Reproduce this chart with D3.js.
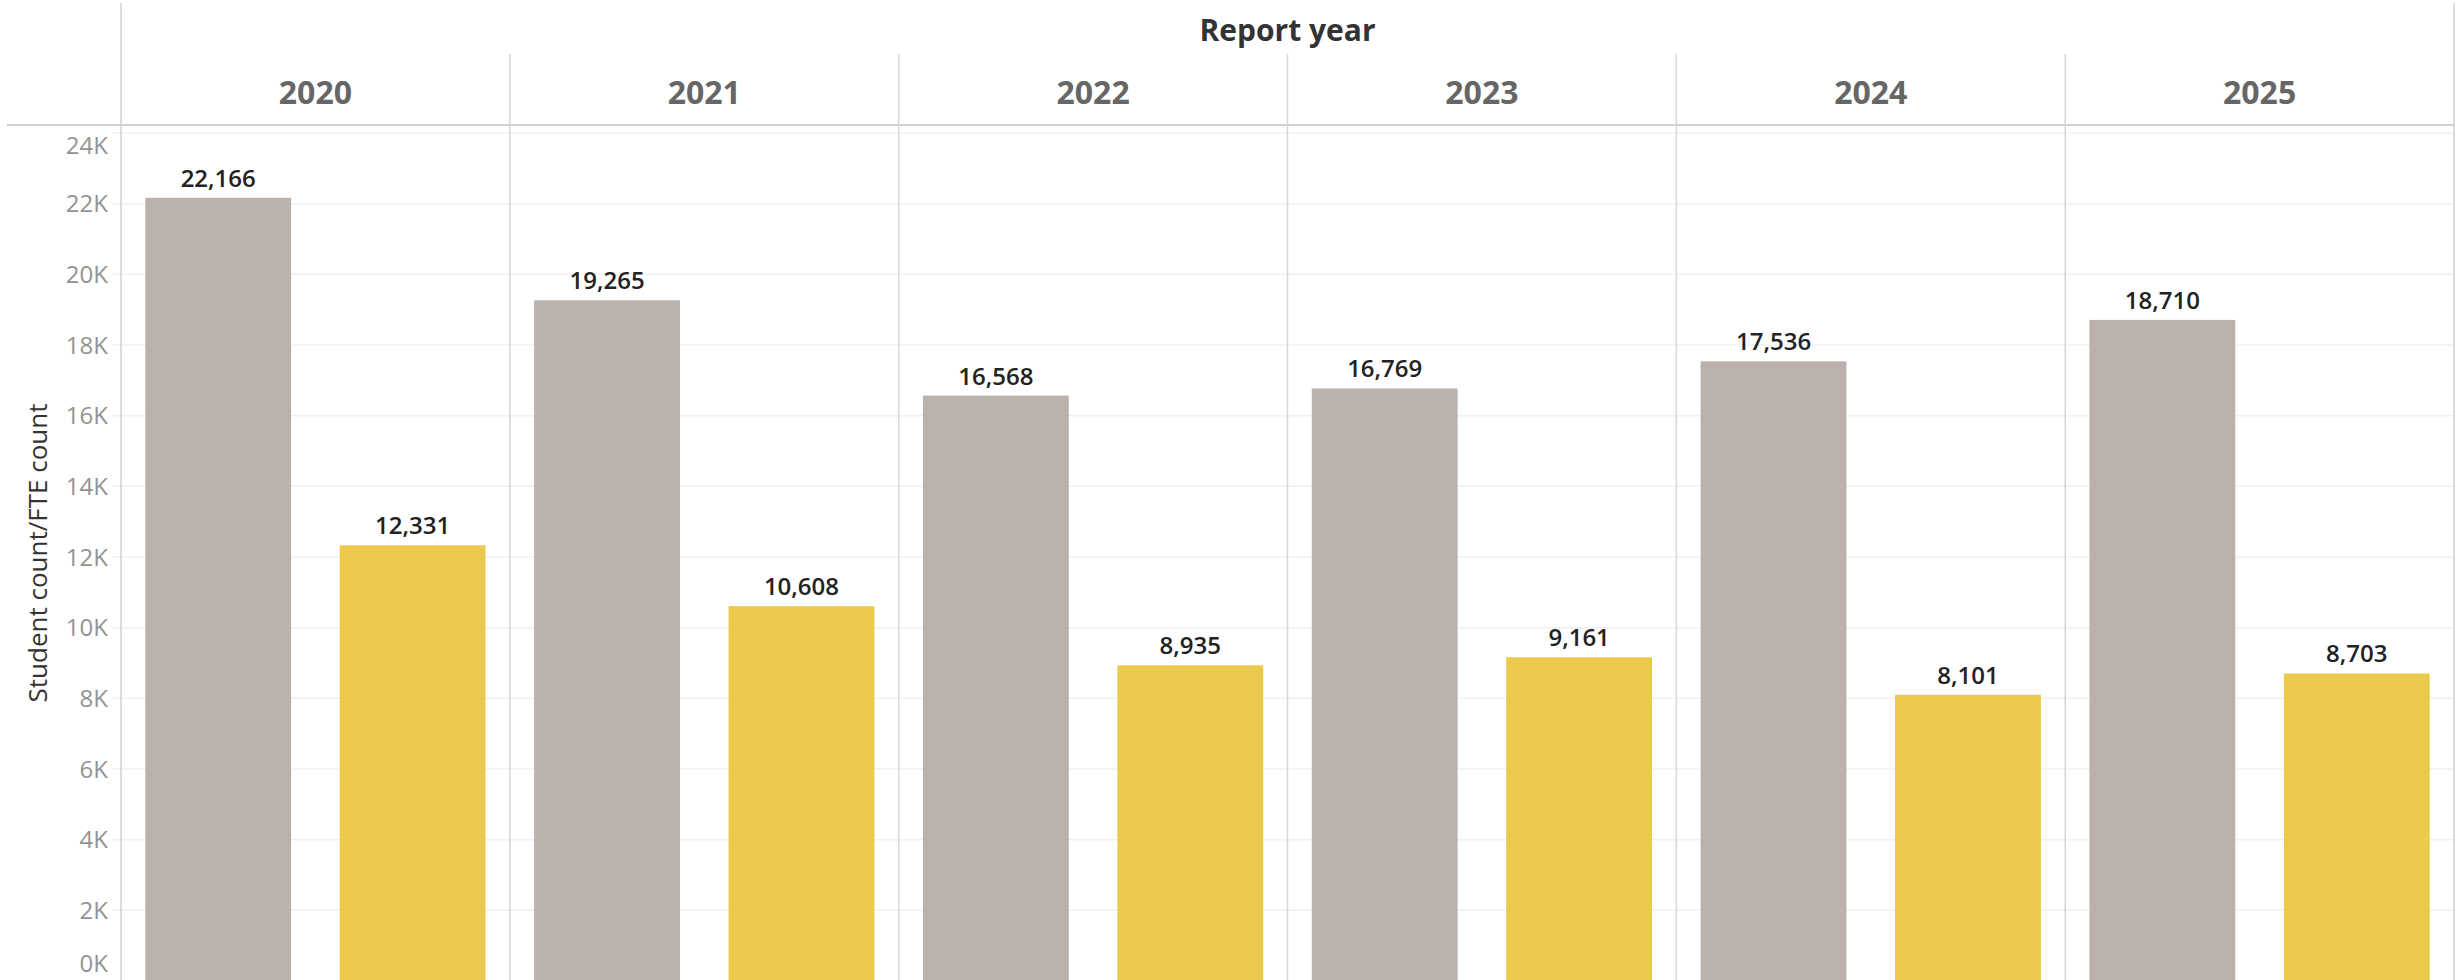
<!DOCTYPE html>
<html>
<head>
<meta charset="utf-8">
<script src="https://cdn.jsdelivr.net/npm/d3@7"></script>
<style>
  html, body { margin: 0; padding: 0; background: #fff; }
  svg { display: block; font-family: "Open Sans", "Noto Sans", sans-serif; }
</style>
</head>
<body>
<svg id="chart"></svg>
<script>
// values
const years = ["2020", "2021", "2022", "2023", "2024", "2025"];
const series = ["Student count", "FTE count"];
const studentCount = [22166, 19265, 16568, 16769, 17536, 18710];
const fteCount = [12331, 10608, 8935, 9161, 8101, 8703];
const yTicks = [0, 2000, 4000, 6000, 8000, 10000, 12000, 14000, 16000, 18000, 20000, 22000, 24000];

const width = 2458;
const height = 980;
const left = 121, right = 2454;
const headerY = 125;
const colors = { "Student count": "#bab0ac", "FTE count": "#ebc94a" };

const svg = d3.select("#chart")
    .attr("width", width)
    .attr("height", height);

const x0 = d3.scaleBand().domain(years).range([left, right]);
const x1 = d3.scaleBand().domain(series).range([0, x0.bandwidth()])
    .paddingInner(0.25).paddingOuter(0.125);
const y = d3.scaleLinear().domain([0, 24000]).range([981, 133]);

// gridlines
svg.append("g")
    .selectAll("line")
    .data(yTicks)
    .join("line")
    .attr("x1", 113).attr("x2", right)
    .attr("y1", d => y(d)).attr("y2", d => y(d))
    .attr("stroke", "#f0f0f0")
    .attr("stroke-width", 1.5);

// tick labels, kept inside the pane like Tableau does
svg.append("g")
    .selectAll("text")
    .data(yTicks)
    .join("text")
    .attr("x", 108)
    .attr("y", d => Math.max(145, Math.min(963, y(d))))
    .attr("dy", "0.36em")
    .attr("text-anchor", "end")
    .attr("fill", "#939393")
    .attr("font-size", 24)
    .text(d => d / 1000 + "K");

// axis title
svg.append("text")
    .attr("transform", `translate(38,553) rotate(-90)`)
    .attr("dy", "0.36em")
    .attr("text-anchor", "middle")
    .attr("fill", "#333")
    .attr("font-size", 26)
    .text("Student count/FTE count");

// bars
const rows = years.map((yr, i) => ({ year: yr, values: [
    { key: series[0], value: studentCount[i] },
    { key: series[1], value: fteCount[i] }
] }));

const panel = svg.append("g")
    .selectAll("g")
    .data(rows)
    .join("g")
    .attr("transform", d => `translate(${x0(d.year)},0)`);

panel.selectAll("rect")
    .data(d => d.values)
    .join("rect")
    .attr("x", d => x1(d.key))
    .attr("width", x1.bandwidth())
    .attr("y", d => y(d.value))
    .attr("height", d => y(0) - y(d.value))
    .attr("fill", d => colors[d.key]);

panel.selectAll("text.value")
    .data(d => d.values)
    .join("text")
    .attr("class", "value")
    .attr("x", d => x1(d.key) + x1.bandwidth() / 2)
    .attr("y", d => y(d.value) - 11)
    .attr("text-anchor", "middle")
    .attr("fill", "#222")
    .attr("font-size", 24)
    .attr("font-weight", 600)
    .text(d => d3.format(",")(d.value));

// header and panel lines
svg.append("line")
    .attr("x1", 7).attr("x2", right)
    .attr("y1", headerY).attr("y2", headerY)
    .attr("stroke", "#cfcfcf").attr("stroke-width", 2);

svg.append("g")
    .selectAll("line")
    .data(years.slice(1))
    .join("line")
    .attr("x1", d => x0(d)).attr("x2", d => x0(d))
    .attr("y1", 54).attr("y2", height)
    .attr("stroke", "#d6d6d6").attr("stroke-width", 1.5);

[left, right].forEach(xp => {
    svg.append("line")
        .attr("x1", xp).attr("x2", xp)
        .attr("y1", 3).attr("y2", height)
        .attr("stroke", "#d0d0d0").attr("stroke-width", 1.5);
});

svg.append("g")
    .selectAll("text")
    .data(years)
    .join("text")
    .attr("x", d => x0(d) + x0.bandwidth() / 2)
    .attr("y", 92)
    .attr("dy", "0.36em")
    .attr("text-anchor", "middle")
    .attr("fill", "#666")
    .attr("font-size", 32)
    .attr("font-weight", "bold")
    .text(d => d);

svg.append("text")
    .attr("x", (left + right) / 2)
    .attr("y", 30)
    .attr("dy", "0.36em")
    .attr("text-anchor", "middle")
    .attr("fill", "#333")
    .attr("font-size", 30)
    .attr("font-weight", "bold")
    .text("Report year");
</script>
</body>
</html>
